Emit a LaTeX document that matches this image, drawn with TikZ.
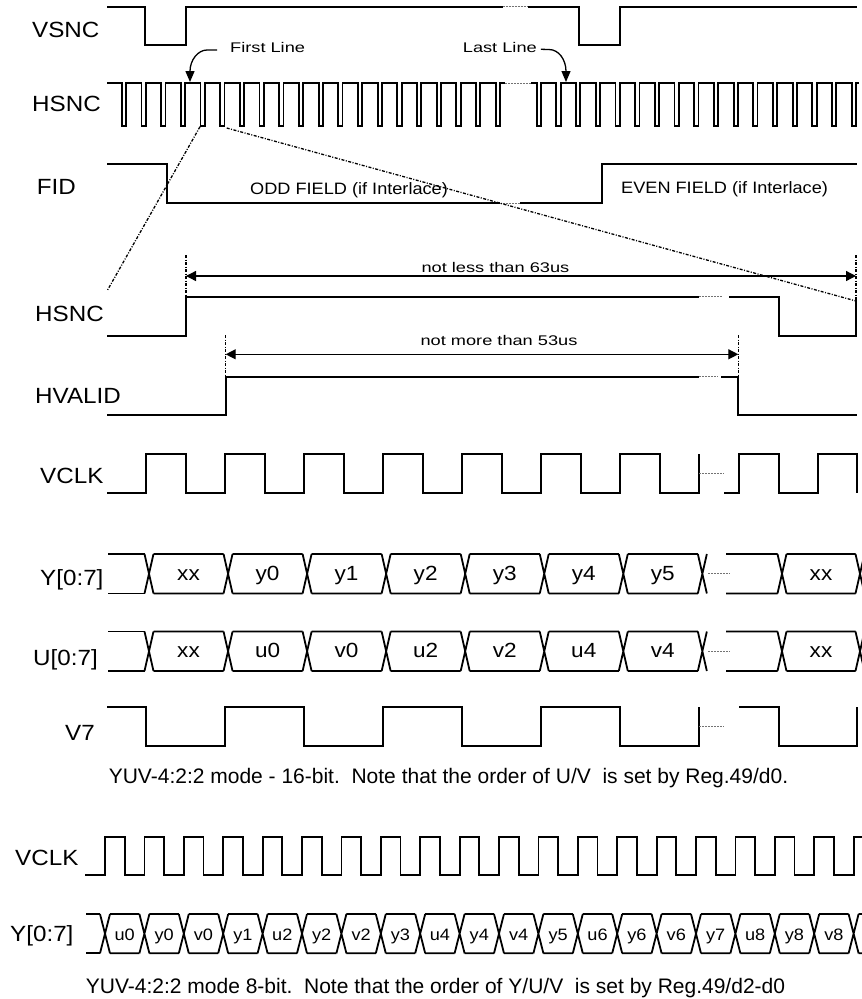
\documentclass[tikz,border=0pt]{standalone}
\usepackage{fontspec}
\setmainfont{Liberation Sans}
\newfontfamily\sigfont[FakeStretch=1.1]{Liberation Sans}
\newfontfamily\tagfont[FakeStretch=1.3]{Liberation Sans}
\usetikzlibrary{arrows.meta}

\begin{document}
\begin{tikzpicture}[
		x=1pt, y=-1pt,
		W/.style = {line width=1.8pt},% waveforms and buses
		G/.style = {line width=1pt, black!55, dash pattern=on 2pt off 1pt},% breaks in a waveform
		M/.style = {line width=1.3pt, dash pattern=on 3pt off 1.5pt on 1pt off 1.5pt},
		A/.style = {line width=1.3pt, -{Triangle[width=9pt,length=11pt]}},
		D/.style = {line width=1.3pt,
			{Triangle[width=10pt,length=10pt]}-{Triangle[width=10pt,length=10pt]}},
		L/.style = {font=\sigfont\fontsize{22}{22}\selectfont, inner sep=0pt, anchor=base west},
		T/.style = {font=\tagfont\fontsize{14}{14}\selectfont, inner sep=0pt, anchor=base west},
		F/.style = {font=\sigfont\fontsize{16.5}{16.5}\selectfont, inner sep=0pt, anchor=base west},
		V/.style = {font=\sigfont\fontsize{20.5}{20.5}\selectfont, inner sep=0pt, anchor=base},
		S/.style = {font=\sigfont\fontsize{16.5}{16.5}\selectfont, inner sep=0pt, anchor=base},
		C/.style = {font=\fontsize{21}{21}\selectfont, inner sep=0pt, anchor=base},
		]
		\useasboundingbox (0,0) rectangle (862,999);
		% signal names
		\node[L] (vsnc)   at (32,37.3)   {VSNC};
		\node[L] (hsnc)   at (32,111.7)  {HSNC};
		\node[L] (fid)    at (36.7,194.3) {FID};
		\node[L] (hsncb)  at (35,321.7)  {HSNC};
		\node[L] (hvalid) at (35,403.3)  {HVALID};
		\node[L] (vclk)   at (40,483.3)  {VCLK};
		\node[L] (ybus)   at (40,585.5)  {Y[0:7]};
		\node[L] (ubus)   at (33,665)    {U[0:7]};
		\node[L] (vsev)   at (65,740)    {V7};
		\node[L] (vclkb)  at (15,865.7)  {VCLK};
		\node[L] (ybusb)  at (10,941.7)  {Y[0:7]};
		
		% VSNC
		\draw[W] (107,6.7) -- (145,6.7) -- (145,45) -- (186,45) -- (186,6.7) -- (502.7,6.7);
		\draw[G] (502.7,6.7) -- (527.7,6.7);
		\draw[W] (527.7,6.7) -- (579.3,6.7) -- (579.3,45) -- (620.3,45) -- (620.3,6.7) -- (857,6.7);
		
		% HSNC, one pulse per line
		\draw[W] (107,83.3) \foreach \k in {0,...,19} {
			-- ({121.8+19.68*\k},83.3) -- ++(0,42.4) -- ++(4.3,0) -- ++(0,-42.4)} -- (505,83.3);
		\draw[G] (505,83.3) -- (531,83.3);
		\draw[W] (531,83.3) \foreach \k in {0,...,16} {
			-- ({536.7+19.69*\k},83.3) -- ++(0,42.4) -- ++(4.3,0) -- ++(0,-42.4)} -- (859,83.3);
		\node[T] (first) at (230,52.3) {First Line};
		\node[T] (last) at (462.7,52.3) {Last Line};
		\coordinate (fl) at (190,82);
		\coordinate (ll) at (566,82);
		\draw[A] ([xshift=-13pt,yshift=-2.7pt]first.west) -- (207,50) .. controls (198,50) and (190,60) .. (fl);
		\draw[A] ([xshift=4pt,yshift=-2pt]last.east) -- (549,49.5) .. controls (559,49.5) and (566,60) .. (ll);
		
		% FID
		\draw[W] (107,164.3) -- (166.7,164.3) -- (166.7,203.3) -- (500,203.3);
		\draw[G] (500,203.3) -- (520,203.3);
		\draw[W] (520,203.3) -- (601.7,203.3) -- (601.7,164.3) -- (857,164.3);
		\node[F] (odd) at (250,194.3) {ODD FIELD (if Interlace)};
		\node[F] (even) at (621,193.5) {EVEN FIELD (if Interlace)};
		
		% one line, zoomed
		\coordinate (za) at (200,126.7);
		\coordinate (zb) at (107,291);
		\coordinate (zc) at (226.7,128);
		\coordinate (zd) at (856,301);
		\draw[M] (za) -- (zb);
		\draw[M] (zc) -- (zd);
		
		% HSNC (one line)
		\draw[W] (107,335.7) -- (186,335.7) -- (186,296.7) -- (699,296.7);
		\draw[G] (699,296.7) -- (722,296.7);
		\draw[W] (729,296.7) -- (778.7,296.7) -- (778.7,335.7) -- (856,335.7) -- (856,296.7);
		\coordinate (la) at (186,276);
		\coordinate (lb) at (856,276);
		\draw[M] (186,255) -- (186,297);
		\draw[M] (856,255) -- (856,297);
		\draw[D] (la) -- (lb);
		\node[T, anchor=base] (less) at (495.4,272.3) {not less than 63us};
		
		% HVALID
		\draw[W] (107,415) -- (225.7,415) -- (225.7,376.7) -- (699,376.7);
		\draw[G] (699,376.7) -- (718,376.7);
		\draw[W] (721,376.7) -- (738.3,376.7) -- (738.3,415) -- (857,415);
		\coordinate (ma) at (225.7,354.3);
		\coordinate (mb) at (738.3,354.3);
		\draw[M] (225.7,335) -- (225.7,377);
		\draw[M] (738.3,335) -- (738.3,377);
		\draw[D] (ma) -- (mb);
		\node[T, anchor=base] (more) at (499,345.7) {not more than 53us};
		
		% VCLK, 16-bit
		\draw[W] (107,493.3) \foreach \k in {0,...,6} {
			-- ({146+79.05*\k},493.3) -- ++(0,-39) -- ++(40,0) -- ++(0,39)} -- (699.35,493.3) -- (699.35,454.3);
		\draw[G] (699.35,473.8) -- (724,473.8);
		\draw[W] (724,493.3) -- (739,493.3) -- (739,454.3) -- (778.7,454.3) -- (778.7,493.3)
			-- (817.7,493.3) -- (817.7,454.3) -- (856.7,454.3) -- (856.7,493.3);
		
		% Y and U buses, 16-bit
		\foreach \yt/\vals [count=\r] in {554/{xx,y0,y1,y2,y3,y4,y5},631.5/{xx,u0,v0,u2,v2,u4,v4}} {
			\pgfmathsetmacro\yb{\yt+39.5}
			\pgfmathsetmacro\ym{\yt+19.75}
			\draw[W] (108.3,\yt) -- (144.5,\yt) (108.3,\yb) -- (144.5,\yb);
			\foreach \t [count=\k from 0] in \vals {
				\pgfmathsetmacro\c{149+79.05*\k}
				\draw[W] ({\c-4.5},\yt) -- ({\c+4.5},\yb) ({\c-4.5},\yb) -- ({\c+4.5},\yt)
					({\c+4.5},\yt) -- ({\c+74.55},\yt) ({\c+4.5},\yb) -- ({\c+74.55},\yb);
				\node[V] (B\r-\k) at ({\c+39.5},{\yt+26}) {\t};
			}
			\draw[W] (697.85,\yt) -- (706.85,\yb) (697.85,\yb) -- (706.85,\yt);
			\draw[G] (708,\ym) -- (730,\ym);
			\draw[W] (726,\yt) -- (777.5,\yt) (726,\yb) -- (777.5,\yb)
				(777.5,\yt) -- (786.5,\yb) (777.5,\yb) -- (786.5,\yt)
				(786.5,\yt) -- (855.5,\yt) (786.5,\yb) -- (855.5,\yb)
				(855.5,\yt) -- (864.5,\yb) (855.5,\yb) -- (864.5,\yt);
			\node[V] (B\r-x) at (821,{\yt+26}) {xx};
		}
		
		% V7
		\draw[W] (107,707.3) \foreach \k in {0,...,3} {
			-- ({146+158.1*\k},707.3) -- ++(0,38.7) -- ++(79.05,0) -- ++(0,-38.7)};
		\draw[G] (699.35,726.7) -- (724,726.7);
		\draw[W] (739,707.3) -- (778.7,707.3) -- (778.7,746) -- (856.7,746) -- (856.7,707.3);
		\node[C] (capa) at (448.5,783.3) {YUV-4:2:2 mode - 16-bit.\ \ Note that the order of U/V\ \ is set by Reg.49/d0.};
		
		% VCLK, 8-bit
		\draw[W] (85,875) \foreach \k in {0,...,18} {
			-- ({105+39.4*\k},875) -- ++(0,-38.3) -- ++(19.7,0) -- ++(0,38.3)} -- (853.6,875) -- (853.6,836.7) -- (862,836.7);
		
		% Y bus, 8-bit
		\draw[W] (86,914) -- (100,914) (86,953.3) -- (100,953.3);
		\foreach \t [count=\k from 0] in {u0,y0,v0,y1,u2,y2,v2,y3,u4,y4,v4,y5,u6,y6,v6,y7,u8,y8,v8} {
			\pgfmathsetmacro\c{105+39.4*\k}
			\draw[W] ({\c-5},914) -- ({\c+5},953.3) ({\c-5},953.3) -- ({\c+5},914)
				({\c+5},914) -- ({\c+34.4},914) ({\c+5},953.3) -- ({\c+34.4},953.3);
			\node[S] (E\k) at ({\c+19.7},940) {\t};
		}
		\draw[W] (848.6,914) -- (858.6,953.3) (848.6,953.3) -- (858.6,914)
			(858.6,914) -- (862,914) (858.6,953.3) -- (862,953.3);
		\node[C] (capb) at (435.5,993) {YUV-4:2:2 mode 8-bit.\ \ Note that the order of Y/U/V\ \ is set by Reg.49/d2-d0};
	\end{tikzpicture}
\end{document}
